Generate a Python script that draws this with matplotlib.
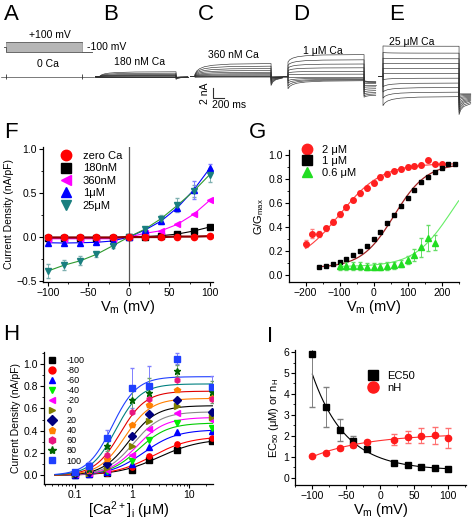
import numpy as np
import matplotlib.pyplot as plt
from matplotlib.lines import Line2D
from matplotlib.ticker import MultipleLocator, FixedLocator, FixedFormatter, LogLocator, NullFormatter

plt.rcParams['font.family'] = ['Liberation Sans', 'DejaVu Sans']
plt.rcParams['mathtext.default'] = 'regular'
plt.rcParams['axes.linewidth'] = 0.9
plt.rcParams['xtick.major.size'] = 3
plt.rcParams['ytick.major.size'] = 3
plt.rcParams['xtick.minor.size'] = 1.5
plt.rcParams['ytick.minor.size'] = 1.5
plt.rcParams['xtick.major.width'] = 0.8
plt.rcParams['ytick.major.width'] = 0.8
plt.rcParams['xtick.labelsize'] = 7.5
plt.rcParams['ytick.labelsize'] = 7.5

# ---------------- data ----------------
# A-E current traces (nA): value at pulse start / end, tail start / end, one per voltage step
steps_mv = [100, 80, 60, 40, 20, 0, -20, -40, -60, -80, -100]
a_start = [0.0]
a_end = [0.0]
a_tail0 = [0.0]
a_tail1 = [0.0]
b_start = [0.1, 0.08, 0.05, 0.03, 0.02, 0.01, 0.0, 0.0, -0.05, -0.08, -0.1]
b_end = [1.0, 0.7, 0.45, 0.3, 0.18, 0.1, 0.05, 0.0, -0.05, -0.08, -0.1]
b_tail0 = [-0.6, -0.5, -0.4, -0.3, -0.25, -0.2, -0.15, -0.1, -0.1, -0.1, -0.1]
b_tail1 = [-0.15, -0.15, -0.12, -0.1, -0.1, -0.1, -0.1, -0.1, -0.1, -0.1, -0.1]
c_start = [0.5, 0.4, 0.3, 0.2, 0.12, 0.07, 0.04, 0.02, 0.0, -0.1, -0.15]
c_end = [2.75, 2.2, 1.7, 1.27, 0.9, 0.6, 0.37, 0.15, 0.0, -0.07, -0.1]
c_tail0 = [-1.9, -1.6, -1.3, -1.0, -0.75, -0.55, -0.4, -0.25, -0.15, -0.1, -0.1]
c_tail1 = [-0.3, -0.25, -0.2, -0.18, -0.15, -0.12, -0.1, -0.1, -0.1, -0.1, -0.1]
d_start = [3.1, 2.4, 1.8, 1.25, 0.75, 0.35, 0.0, -0.9, -1.4, -2.0, -2.6]
d_end = [4.66, 3.55, 2.66, 1.85, 1.1, 0.5, 0.0, -0.37, -0.6, -0.73, -0.9]
d_tail0 = [-4.4, -4.1, -3.7, -3.3, -2.8, -2.3, -1.8, -1.4, -1.1, -0.95, -0.9]
d_tail1 = [-4.0, -3.7, -3.4, -3.0, -2.6, -2.2, -1.8, -1.5, -1.3, -1.2, -1.1]
e_start = [6.5, 5.1, 3.9, 2.8, 1.75, 0.6, -0.7, -2.2, -3.3, -4.6, -6.2]
e_end = [6.44, 4.97, 3.77, 2.75, 1.71, 0.67, -0.36, -1.4, -2.35, -3.33, -4.29]
e_tail0 = [-8.1, -7.6, -7.1, -6.6, -6.1, -5.6, -5.1, -4.7, -4.3, -4.0, -3.7]
e_tail1 = [-5.8, -5.5, -5.2, -5.0, -4.8, -4.6, -4.4, -4.2, -4.0, -3.8, -3.7]
trace_t = [0, 30, 80, 160, 300, 600, 1300]
trace_shape = [0, 0.3, 0.52, 0.7, 0.84, 0.95, 1.0]
tail_t = [0, 30, 80, 200]
tail_shape = [0, 0.45, 0.75, 1.0]
PULSE = 1300

# F: I-V curves
iv_v = [-100, -80, -60, -40, -20, 0, 20, 40, 60, 80, 100]
iv_zero = [-0.005, -0.005, -0.005, -0.005, -0.005, 0.0, 0.0, 0.0, 0.005, 0.005, 0.01]
iv_180 = [-0.01, -0.01, -0.01, -0.01, -0.01, 0.0, 0.005, 0.015, 0.034, 0.068, 0.114]
iv_360 = [-0.02, -0.02, -0.02, -0.02, -0.02, 0.0, 0.042, 0.072, 0.144, 0.258, 0.417]
iv_1u = [-0.065, -0.068, -0.065, -0.06, -0.045, 0.0, 0.08, 0.182, 0.333, 0.534, 0.78]
iv_25u = [-0.386, -0.32, -0.27, -0.197, -0.10, 0.0, 0.09, 0.21, 0.36, 0.52, 0.71]
iv_1u_err = [0.01, 0.01, 0.01, 0.01, 0.01, 0.005, 0.02, 0.03, 0.04, 0.1, 0.05]
iv_25u_err = [0.08, 0.06, 0.05, 0.03, 0.02, 0.005, 0.02, 0.04, 0.08, 0.07, 0.08]

# G: G/Gmax vs Vm
g_v_2u = [-200, -180, -160, -140, -120, -100, -80, -60, -40, -20, 0, 20, 40, 60, 80, 100, 120, 140, 160, 180, 200]
g_2u = [0.26, 0.345, 0.34, 0.39, 0.445, 0.505, 0.565, 0.625, 0.68, 0.725, 0.77, 0.815, 0.845, 0.87, 0.885, 0.9, 0.91, 0.915, 0.955, 0.925, 0.925]
g_2u_err = [0.03, 0.04, 0.025, 0.02, 0.02, 0.02, 0.02, 0.02, 0.02, 0.02, 0.02, 0.02, 0.02, 0.015, 0.015, 0.015, 0.015, 0.015, 0.01, 0.01, 0.01]
g_v_1u = [-160, -140, -120, -100, -80, -60, -40, -20, 0, 20, 40, 60, 80, 100, 120, 140, 160, 180, 200, 220, 240]
g_1u = [0.068, 0.078, 0.092, 0.108, 0.13, 0.165, 0.2, 0.245, 0.3, 0.36, 0.43, 0.5, 0.575, 0.645, 0.712, 0.772, 0.82, 0.86, 0.895, 0.925, 0.925]
g_v_06 = [-100, -80, -60, -40, -20, 0, 20, 40, 60, 80, 100, 120, 140, 160, 180]
g_06 = [0.075, 0.075, 0.075, 0.075, 0.07, 0.07, 0.07, 0.075, 0.08, 0.095, 0.125, 0.17, 0.23, 0.31, 0.27]
g_06_err = [0.03, 0.03, 0.03, 0.03, 0.03, 0.03, 0.03, 0.03, 0.03, 0.03, 0.03, 0.05, 0.08, 0.11, 0.06]
# Boltzmann fit parameters: Gmin, Gmax, V1/2, k
fit_2u = (0.08, 0.93, -100, 62)
fit_1u = (0.06, 0.93, 60, 48)
fit_06 = (0.07, 1.0, 230, 55)

# H: dose-response at each Vm
ca_um = [0.1, 0.18, 0.36, 1, 2, 6, 25]
h_vm = [-100, -80, -60, -40, -20, 0, 20, 40, 60, 80, 100]
h_cur = [
    [0.005, 0.01, 0.02, 0.05, 0.135, 0.232, 0.306],
    [0.005, 0.012, 0.025, 0.076, 0.176, 0.285, 0.335],
    [0.008, 0.015, 0.03, 0.10, 0.253, 0.39, 0.40],
    [0.01, 0.02, 0.04, 0.13, 0.32, 0.47, 0.424],
    [0.01, 0.02, 0.05, 0.182, 0.412, 0.555, 0.494],
    [0.01, 0.025, 0.065, 0.262, 0.488, 0.62, 0.52],
    [0.015, 0.03, 0.10, 0.356, 0.553, 0.68, 0.568],
    [0.02, 0.04, 0.147, 0.456, 0.632, 0.762, 0.69],
    [0.02, 0.05, 0.185, 0.568, 0.682, 0.853, 0.682],
    [0.025, 0.06, 0.265, 0.676, 0.741, 0.94, 0.747],
    [0.03, 0.088, 0.338, 0.785, 0.797, 1.044, 0.79],
]
h_err_100 = [0.02, 0.03, 0.07, 0.18, 0.18, 0.05, 0.1]
h_err_80 = [0.01, 0.02, 0.05, 0.12, 0.13, 0.05, 0.1]
# Hill fit parameters per Vm
hill_max = [0.33, 0.35, 0.41, 0.47, 0.52, 0.57, 0.625, 0.69, 0.755, 0.82, 0.885]
hill_ec50 = [3.0, 2.3, 1.6, 1.3, 1.2, 1.05, 0.9, 0.75, 0.62, 0.52, 0.45]
hill_n = [1.2, 1.3, 1.5, 1.7, 1.75, 1.8, 1.85, 1.9, 1.95, 2.0, 2.0]

# I: EC50 and nH vs Vm
i_v = [-100, -80, -60, -40, -20, 20, 40, 60, 80, 100]
ec50 = [5.9, 3.37, 2.27, 1.73, 1.39, 0.70, 0.60, 0.50, 0.44, 0.40]
ec50_err = [2.5, 0.97, 0.54, 0.26, 0.12, 0.08, 0.05, 0.04, 0.03, 0.03]
nh = [1.04, 1.19, 1.40, 1.57, 1.69, 1.82, 1.94, 2.0, 2.02, 1.91]
nh_err = [0.05, 0.05, 0.07, 0.1, 0.1, 0.25, 0.28, 0.35, 0.4, 0.48]
ec50_fit = (0.597, 49, 0.35)     # a*exp(-V/tau)+c
nh_fit = (2.1, 1.1, 82)          # top - amp*exp(-(V+100)/tau)

# ---------------- figure ----------------
W, H = 474, 520
fig = plt.figure(figsize=(W / 100, H / 100), dpi=100)


def px_axes(x0, y0, x1, y1):
    return fig.add_axes([x0 / W, 1 - y1 / H, (x1 - x0) / W, (y1 - y0) / H])


def ftext(x, y, s, **kw):
    fig.text(x / W, 1 - y / H, s, **kw)


# ---- A-E traces ----
MS_PER_PX = 200 / 11.7
NA_PER_PX = 2 / 9.4
BASE = 76.5


def trace_axes(p0):
    ax = px_axes(p0 - 8, 0, p0 + 96, 120)
    ax.set_xlim(-8 * MS_PER_PX, 96 * MS_PER_PX)
    ax.set_ylim(-(120 - BASE) * NA_PER_PX, BASE * NA_PER_PX)
    ax.axis('off')
    return ax


def draw_traces(p0, start, end, tail0, tail1):
    ax = trace_axes(p0)
    sh = np.array(trace_shape)
    tsh = np.array(tail_shape)
    t = np.concatenate([[-80, 0], trace_t, PULSE + np.array(tail_t)])
    for s, e, a, b in zip(start, end, tail0, tail1):
        i = np.concatenate([[0, 0], s + (e - s) * sh, a + (b - a) * tsh])
        ax.plot(t, i, color='#303030', lw=0.45)
    return ax


axA = draw_traces(6, a_start, a_end, a_tail0, a_tail1)
axA.vlines([0, PULSE], -0.45, 0.45, color='#303030', lw=0.6)
axB = draw_traces(100, b_start, b_end, b_tail0, b_tail1)
axC = draw_traces(195, c_start, c_end, c_tail0, c_tail1)
axD = draw_traces(288, d_start, d_end, d_tail0, d_tail1)
axE = draw_traces(383, e_start, e_end, e_tail0, e_tail1)

# scale bar on C: 2 nA, 200 ms
axC.plot([300, 300, 500], [-2.5, -4.5, -4.5], color='#303030', lw=0.8)
axC.text(250, -3.5, '2 nA', rotation=90, ha='right', va='center', fontsize=7.5)
axC.text(290, -5.0, '200 ms', ha='left', va='top', fontsize=7.5)

# voltage protocol (A)
axP = px_axes(6 - 8, 0, 6 + 96, 120)
axP.set_xlim(-8 * MS_PER_PX, 96 * MS_PER_PX)
axP.set_ylim(-(120 - 47) * 20, 47 * 20)
axP.axis('off')
for v in steps_mv:
    col = '#505050' if abs(v) == 100 else '#a8a8a8'
    axP.plot([-40, 0, 0, PULSE, PULSE, PULSE + 170], [0, 0, v, v, -100, -100], color=col, lw=0.6)

ftext(50, 35, '+100 mV', ha='center', va='center', fontsize=7.5)
ftext(87, 47, '-100 mV', ha='left', va='center', fontsize=7.5)
ftext(48, 64, '0 Ca', ha='center', va='center', fontsize=7.5)
ftext(140, 62, '180 nM Ca', ha='center', va='center', fontsize=7.5)
ftext(233, 55, '360 nM Ca', ha='center', va='center', fontsize=7.5)
ftext(323, 51, '1 \u03bcM Ca', ha='center', va='center', fontsize=7.5)
ftext(412, 42, '25 \u03bcM Ca', ha='center', va='center', fontsize=7.5)

for letter, x in zip('ABCDE', [11, 111, 206, 301, 397]):
    ftext(x, 14, letter, ha='center', va='center', fontsize=16)
ftext(11, 132, 'F', ha='center', va='center', fontsize=16)
ftext(258, 133, 'G', ha='center', va='center', fontsize=16)
ftext(11, 335, 'H', ha='center', va='center', fontsize=16)
ftext(270, 337, 'I', ha='center', va='center', fontsize=16)


def style(ax):
    ax.spines['top'].set_visible(False)
    ax.spines['right'].set_visible(False)
    ax.tick_params(which='both', direction='out', pad=1.2)


def mk(marker, color, ms=7):
    return Line2D([], [], marker=marker, color=color, ls='None', markersize=ms)


# ---- F ----
axF = px_axes(43, 147, 213, 282)
style(axF)
axF.axvline(0, color='#555555', lw=0.9)
axF.plot(iv_v, iv_180, color='black', lw=0.8)
axF.plot(iv_v, iv_360, color='#ff00ff', lw=0.8)
axF.plot(iv_v, iv_1u, color='#0000ff', lw=0.8)
axF.plot(iv_v, iv_25u, color='#2e9a2e', lw=0.8)
axF.plot(iv_v, iv_zero, color='#8b0000', lw=1.6)
axF.errorbar(iv_v, iv_25u, yerr=iv_25u_err, fmt='none', ecolor='#7fb0b0', elinewidth=0.7, capsize=1.5)
axF.errorbar(iv_v, iv_1u, yerr=iv_1u_err, fmt='none', ecolor='#8080ff', elinewidth=0.7, capsize=1.5)
axF.plot(iv_v, iv_180, 's', color='black', ms=4)
axF.plot(iv_v, iv_360, '<', color='#ff00ff', ms=4.5)
axF.plot(iv_v, iv_1u, '^', color='#0000ff', ms=4.5)
axF.plot(iv_v, iv_25u, 'v', color='#1a7f7f', ms=4.5)
axF.plot(iv_v, iv_zero, 'o', color='#ff0000', ms=4.5)
axF.set_xlim(-106, 104)
axF.set_ylim(-0.511, 1.023)
axF.xaxis.set_major_locator(MultipleLocator(50))
axF.xaxis.set_minor_locator(MultipleLocator(25))
axF.yaxis.set_major_locator(MultipleLocator(0.5))
axF.yaxis.set_minor_locator(MultipleLocator(0.25))
axF.set_xlabel('V$_m$ (mV)', fontsize=10.5, labelpad=0)
axF.set_ylabel('Current Density (nA/pF)', fontsize=7.5, labelpad=2)
axF.legend([mk('o', '#ff0000', 7.5), mk('s', 'black', 6.5), mk('<', '#ff00ff', 7.5), mk('^', '#0000ff', 7.5), mk('v', '#1a7f7f', 7.5)],
           ['zero Ca', '180nM', '360nM', '1\u03bcM', '25\u03bcM'],
           loc='upper left', bbox_to_anchor=(0.103, 0.97), frameon=False, fontsize=8,
           handlelength=1, handletextpad=1.0, labelspacing=0.22, borderpad=0, borderaxespad=0)

# ---- G ----
def boltz(v, p):
    gmin, gmax, vh, k = p
    return gmin + (gmax - gmin) / (1 + np.exp(-(v - vh) / k))


axG = px_axes(289, 150, 459, 282.3)
style(axG)
vv = np.linspace(-200, 240, 200)
axG.plot(vv, boltz(vv, fit_2u), color='#ff4040', lw=0.8)
vv = np.linspace(-160, 240, 200)
axG.plot(vv, boltz(vv, fit_1u), color='#a02020', lw=0.9)
vv = np.linspace(-100, 250, 200)
axG.plot(vv, boltz(vv, fit_06), color='#66ee66', lw=0.8)
axG.errorbar(g_v_2u, g_2u, yerr=g_2u_err, fmt='none', ecolor='#ff8080', elinewidth=0.7, capsize=1.5)
axG.errorbar(g_v_06, g_06, yerr=g_06_err, fmt='none', ecolor='#66dd66', elinewidth=0.7, capsize=1.5)
axG.plot(g_v_2u, g_2u, 'o', color='#ff2020', ms=4)
axG.plot(g_v_1u, g_1u, 's', color='black', ms=3.5)
axG.plot(g_v_06, g_06, '^', color='#22dd22', ms=4.5)
axG.set_xlim(-249, 251)
axG.set_ylim(-0.061, 1.042)
axG.xaxis.set_major_locator(MultipleLocator(100))
axG.xaxis.set_minor_locator(MultipleLocator(50))
axG.yaxis.set_major_locator(MultipleLocator(0.2))
axG.yaxis.set_minor_locator(MultipleLocator(0.1))
axG.set_xlabel('V$_m$ (mV)', fontsize=10.5, labelpad=0)
axG.set_ylabel('G/G$_{max}$', fontsize=8, labelpad=2)
axG.legend([mk('o', '#ff2020', 7.5), mk('s', 'black', 6.5), mk('^', '#22dd22', 7.5)],
           ['2 \u03bcM', '1 \u03bcM', '0.6 \u03bcM'],
           loc='upper left', bbox_to_anchor=(0.074, 1.04), frameon=False, fontsize=8,
           handlelength=1, handletextpad=0.85, labelspacing=0.15, borderpad=0, borderaxespad=0)

# ---- H ----
h_markers = ['s', 'o', '^', 'v', '<', '>', 'D', 'p', 'h', '*', 's']
h_colors = ['black', '#ff0000', '#0000ff', '#00ee00', '#ff00ff', '#808000', '#000080', '#ff8000', '#e8157f', '#006400', '#1f3fff']
h_lines = ['black', '#ff0000', '#0000ff', '#00cc00', '#ff00ff', '#888888', 'black', '#ff8000', '#e00000', '#008080', '#2040ff']

axH = px_axes(44, 352, 213, 484)
style(axH)
axH.set_xscale('log')
cc = np.logspace(np.log10(0.045), np.log10(26), 200)
for mx, ec, n, lcol in zip(hill_max, hill_ec50, hill_n, h_lines):
    axH.plot(cc, mx / (1 + (ec / cc) ** n), color=lcol, lw=0.8)
axH.errorbar(ca_um, h_cur[-1], yerr=h_err_100, fmt='none', ecolor='#8080ff', elinewidth=0.7, capsize=1.5)
axH.errorbar(ca_um, h_cur[-2], yerr=h_err_80, fmt='none', ecolor='#70a070', elinewidth=0.7, capsize=1.5)
handles = []
for ys, mkr, col in zip(h_cur, h_markers, h_colors):
    ms = 5 if mkr == '*' else 3.8
    axH.plot(ca_um, ys, mkr, color=col, ms=ms)
    handles.append(mk(mkr, col, 6 if mkr == '*' else 5))
axH.set_xlim(0.0289, 26)
axH.set_ylim(-0.077, 1.106)
axH.xaxis.set_major_locator(FixedLocator([0.1, 1, 10]))
axH.xaxis.set_major_formatter(FixedFormatter(['0.1', '1', '10']))
axH.xaxis.set_minor_locator(LogLocator(base=10, subs=np.arange(2, 10)))
axH.xaxis.set_minor_formatter(NullFormatter())
axH.yaxis.set_major_locator(MultipleLocator(0.2))
axH.yaxis.set_minor_locator(MultipleLocator(0.1))
axH.set_xlabel('[Ca$^{2+}$]$_i$ (\u03bcM)', fontsize=10.5, labelpad=0)
axH.set_ylabel('Current Density (nA/pF)', fontsize=7.5, labelpad=2)
axH.legend(handles, [str(v) for v in h_vm],
           loc='upper left', bbox_to_anchor=(0.021, 0.972), frameon=False, fontsize=6.5,
           handlelength=1, handletextpad=1.1, labelspacing=0.12, borderpad=0, borderaxespad=0)

# ---- I ----
axI = px_axes(295, 350, 466, 485)
style(axI)
vv = np.linspace(-100, 100, 200)
a, tau, c = ec50_fit
axI.plot(vv, a * np.exp(-vv / tau) + c, color='black', lw=0.8)
top, amp, tau2 = nh_fit
axI.plot(vv, top - amp * np.exp(-(vv + 100) / tau2), color='#ff3030', lw=0.8)
axI.errorbar(i_v, ec50, yerr=ec50_err, fmt='none', ecolor='#808080', elinewidth=0.7, capsize=2)
axI.errorbar(i_v, nh, yerr=nh_err, fmt='none', ecolor='#ff7070', elinewidth=0.7, capsize=2)
axI.plot(i_v, ec50, 's', color='black', ms=4)
axI.plot(i_v, nh, 'o', color='#ff1a1a', ms=4.5)
axI.set_xlim(-125.5, 126)
axI.set_ylim(-0.35, 6.1)
axI.xaxis.set_major_locator(MultipleLocator(50))
axI.xaxis.set_minor_locator(MultipleLocator(25))
axI.yaxis.set_major_locator(MultipleLocator(1))
axI.yaxis.set_minor_locator(MultipleLocator(0.5))
axI.set_xlabel('V$_m$ (mV)', fontsize=10.5, labelpad=0)
axI.set_ylabel('EC$_{50}$ (\u03bcM) or n$_H$', fontsize=8, labelpad=2)
axI.legend([mk('s', 'black', 7), mk('o', '#ff1a1a', 8)], ['EC50', 'nH'],
           loc='upper left', bbox_to_anchor=(0.424, 0.846), frameon=False, fontsize=8,
           handlelength=1, handletextpad=0.76, labelspacing=0.2, borderpad=0, borderaxespad=0)

fig.savefig('out.png', dpi=100)
